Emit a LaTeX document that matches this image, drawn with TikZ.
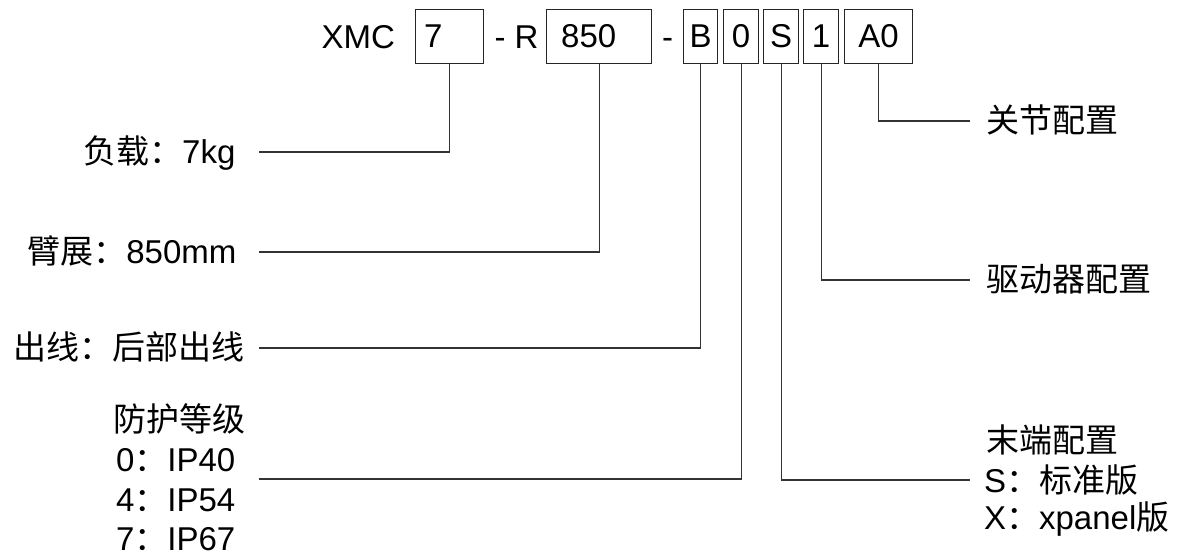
\documentclass[tikz,border=0pt]{standalone}
\usepackage{fontspec}
\setmainfont{Liberation Sans}
\newfontfamily\cjk{Noto Sans CJK SC}
\begin{document}
\begin{tikzpicture}[x=1pt,y=-1pt,line width=1.2pt,
  every node/.style={font=\fontsize{33}{40}\selectfont,inner sep=0pt,text=black},
  box/.style={draw=black!85,minimum height=54pt,anchor=north west},
  conn/.style={draw=black!80},
  lbl/.style={anchor=base west},
  lblr/.style={anchor=base east}]
\useasboundingbox (0,0) rectangle (1181,555);
% code line
\node[lbl] (xmc) at (321,48) {XMC};
\node[box,minimum width=68pt] (b7) at (415,9) {\makebox[68pt][l]{\hspace{8.5pt}7}};
\node[lbl] (dashR) at (494,48) {- R};
\node[box,minimum width=105pt] (b850) at (546,9) {\makebox[105pt][l]{\hspace{14.6pt}850}};
\node[lbl] (dash2) at (661.5,48) {-};
\node[box,minimum width=34pt] (bB) at (683,9) {B};
\node[box,minimum width=35pt] (b0) at (723,9) {0};
\node[box,minimum width=35pt] (bS) at (763,9) {S};
\node[box,minimum width=35pt] (b1) at (803,9) {1};
\node[box,minimum width=68pt] (bA) at (844,9) {A0};
% left labels
\node[lblr] (load) at (236,163) {{\cjk 负载：}7kg};
\node[lblr] (reach) at (237,263) {{\cjk 臂展：}850mm};
\node[lblr] (cable) at (245,359) {\cjk 出线：后部出线};
\node[lbl] (ipt) at (113,431) {\cjk 防护等级};
\node[lbl] (ip0) at (115.5,471) {0{\cjk ：}IP40};
\node[lbl] (ip4) at (115.5,511) {4{\cjk ：}IP54};
\node[lbl] (ip7) at (115.5,550) {7{\cjk ：}IP67};
% right labels
\node[lbl] (joint) at (986,132) {\cjk 关节配置};
\node[lbl] (drive) at (986,291) {\cjk 驱动器配置};
\node[lbl] (endt) at (986,452) {\cjk 末端配置};
\node[lbl] (endS) at (983.5,492) {S{\cjk ：标准版}};
\node[lbl] (endX) at (983.5,529) {X{\cjk ：}xpanel{\cjk 版}};
% connector ends
\coordinate (c7) at (259,152);
\coordinate (c850) at (259,252);
\coordinate (cB) at (259,348);
\coordinate (c0) at (259,479);
\coordinate (cS) at (970,480);
\coordinate (c1) at (970,280);
\coordinate (cA) at (970,121);
% connectors
\draw[conn] (b7.south) |- (c7);
\draw[conn] (b850.south) |- (c850);
\draw[conn] (bB.south) |- (cB);
\draw[conn] (b0.south) |- (c0);
\draw[conn] (bS.south) |- (cS);
\draw[conn] (b1.south) |- (c1);
\draw[conn] (bA.south) |- (cA);
\end{tikzpicture}
\end{document}
